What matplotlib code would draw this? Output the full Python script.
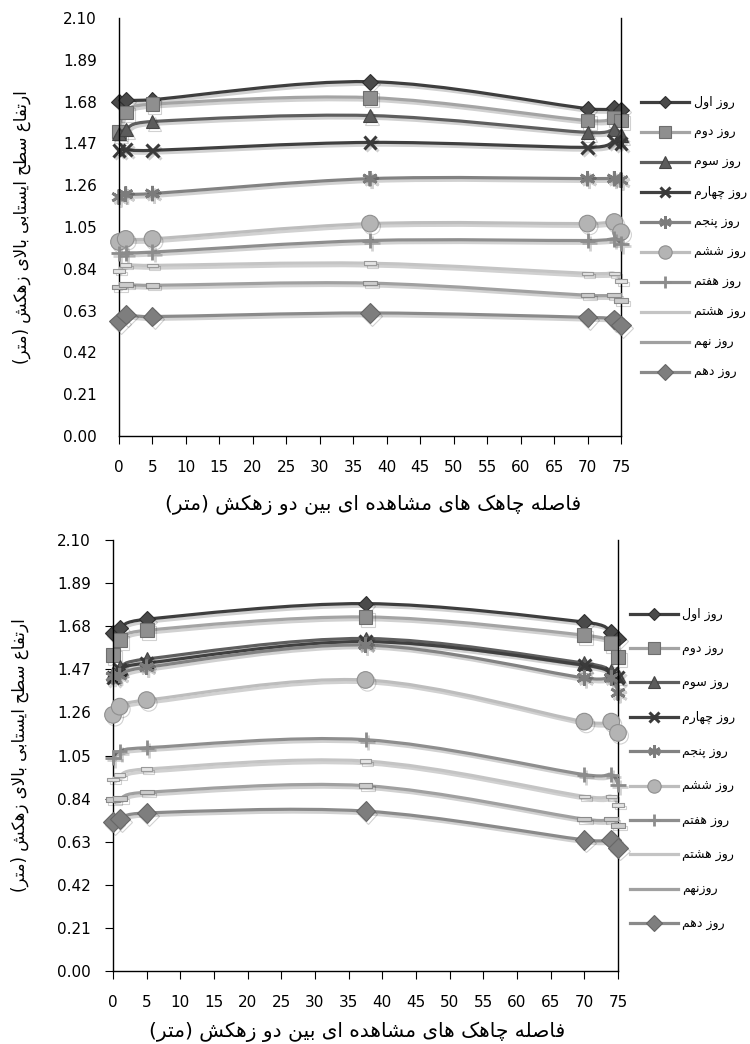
import numpy as np
import matplotlib
matplotlib.use("Agg")
import matplotlib.pyplot as plt
from matplotlib.path import Path
from matplotlib.patches import PathPatch
from matplotlib.lines import Line2D
import matplotlib.patheffects as pe

plt.rcParams['font.family'] = ['DejaVu Sans']

# distances of the observation wells between the two drains (m)
wells = [0, 1, 5, 37.5, 70, 74, 75]

day_names = ["روز اول", "روز دوم", "روز سوم", "روز چهارم", "روز پنجم",
             "روز ششم", "روز هفتم", "روز هشتم", "روز نهم", "روز دهم"]
day_names_2 = ["روز اول", "روز دوم", "روز سوم", "روز چهارم", "روز پنجم",
               "روز ششم", "روز هفتم", "روز هشتم", "روزنهم", "روز دهم"]

# water table height above drain (m), upper chart
top_levels = [
    [1.68, 1.69, 1.69, 1.78, 1.645, 1.65, 1.64],
    [1.53, 1.625, 1.667, 1.70, 1.585, 1.60, 1.585],
    [1.52, 1.54, 1.58, 1.61, 1.525, 1.54, 1.51],
    [1.435, 1.44, 1.435, 1.475, 1.45, 1.48, 1.47],
    [1.20, 1.215, 1.218, 1.293, 1.293, 1.293, 1.285],
    [0.975, 0.99, 0.99, 1.067, 1.067, 1.075, 1.024],
    [0.917, 0.92, 0.924, 0.982, 0.982, 0.99, 0.967],
    [0.83, 0.86, 0.857, 0.868, 0.817, 0.817, 0.778],
    [0.748, 0.762, 0.757, 0.768, 0.707, 0.707, 0.68],
    [0.576, 0.61, 0.60, 0.618, 0.596, 0.586, 0.556],
]

# lower chart
bottom_levels = [
    [1.646, 1.67, 1.714, 1.79, 1.70, 1.652, 1.62],
    [1.54, 1.612, 1.66, 1.725, 1.636, 1.597, 1.53],
    [1.45, 1.48, 1.52, 1.62, 1.50, 1.46, 1.44],
    [1.43, 1.47, 1.50, 1.605, 1.49, 1.45, 1.43],
    [1.434, 1.44, 1.48, 1.588, 1.428, 1.428, 1.355],
    [1.248, 1.288, 1.32, 1.418, 1.215, 1.215, 1.16],
    [1.04, 1.07, 1.088, 1.127, 0.957, 0.957, 0.908],
    [0.934, 0.954, 0.984, 1.023, 0.851, 0.851, 0.81],
    [0.835, 0.84, 0.871, 0.903, 0.74, 0.74, 0.71],
    [0.725, 0.74, 0.77, 0.779, 0.639, 0.64, 0.60],
]

y_label = "ارتفاع سطح ایستابی بالای زهکش (متر)"
x_label = "فاصله چاهک های مشاهده ای بین دو زهکش (متر)"

# --- simple Persian shaping (matplotlib has no RTL / joining support) ---
FORMS = {
    'ا': ('\uFE8D', '\uFE8E', None, None),
    'ب': ('\uFE8F', '\uFE90', '\uFE91', '\uFE92'),
    'ت': ('\uFE95', '\uFE96', '\uFE97', '\uFE98'),
    'ج': ('\uFE9D', '\uFE9E', '\uFE9F', '\uFEA0'),
    'ح': ('\uFEA1', '\uFEA2', '\uFEA3', '\uFEA4'),
    'د': ('\uFEA9', '\uFEAA', None, None),
    'ر': ('\uFEAD', '\uFEAE', None, None),
    'ز': ('\uFEAF', '\uFEB0', None, None),
    'س': ('\uFEB1', '\uFEB2', '\uFEB3', '\uFEB4'),
    'ش': ('\uFEB5', '\uFEB6', '\uFEB7', '\uFEB8'),
    'ص': ('\uFEB9', '\uFEBA', '\uFEBB', '\uFEBC'),
    'ط': ('\uFEC1', '\uFEC2', '\uFEC3', '\uFEC4'),
    'ع': ('\uFEC9', '\uFECA', '\uFECB', '\uFECC'),
    'ف': ('\uFED1', '\uFED2', '\uFED3', '\uFED4'),
    'ل': ('\uFEDD', '\uFEDE', '\uFEDF', '\uFEE0'),
    'م': ('\uFEE1', '\uFEE2', '\uFEE3', '\uFEE4'),
    'ن': ('\uFEE5', '\uFEE6', '\uFEE7', '\uFEE8'),
    'ه': ('\uFEE9', '\uFEEA', '\uFEEB', '\uFEEC'),
    'و': ('\uFEED', '\uFEEE', None, None),
    'پ': ('\uFB56', '\uFB57', '\uFB58', '\uFB59'),
    'چ': ('\uFB7A', '\uFB7B', '\uFB7C', '\uFB7D'),
    'ک': ('\uFB8E', '\uFB8F', '\uFB90', '\uFB91'),
    'ی': ('\uFBFC', '\uFBFD', '\uFBFE', '\uFBFF'),
}
RIGHT_ONLY = set('ادذرزو')
MIRROR = {'(': ')', ')': '('}


def joins_next(c):
    return c in FORMS and c not in RIGHT_ONLY


def fa(text):
    out = []
    i, n = 0, len(text)
    while i < n:
        c = text[i]
        prev = text[i - 1] if i > 0 else ''
        p = joins_next(prev)
        if c == 'ل' and i + 1 < n and text[i + 1] == 'ا':
            out.append('\uFEFC' if p else '\uFEFB')
            i += 2
            continue
        if c not in FORMS:
            out.append(MIRROR.get(c, c))
            i += 1
            continue
        nxt = text[i + 1] if i + 1 < n else ''
        q = nxt in FORMS and c not in RIGHT_ONLY
        iso, fin, ini, med = FORMS[c]
        if p and q:
            out.append(med)
        elif p:
            out.append(fin)
        elif q:
            out.append(ini)
        else:
            out.append(iso)
        i += 1
    return ''.join(reversed(out))


def smooth_path(xs, ys):
    # Excel-like smoothed line: cubic bezier segments, tangents at 1/6
    pts = np.column_stack([xs, ys]).astype(float)
    n = len(pts)
    verts = [pts[0]]
    codes = [Path.MOVETO]
    for i in range(n - 1):
        p0 = pts[i - 1] if i > 0 else pts[i]
        p1, p2 = pts[i], pts[i + 1]
        p3 = pts[i + 2] if i + 2 < n else pts[i + 1]
        d1 = (p2 - p0) / 6.0
        d2 = (p3 - p1) / 6.0
        w = p2[0] - p1[0]
        if d1[0] > w:
            d1 = d1 * w / d1[0]
        if d2[0] > w:
            d2 = d2 * w / d2[0]
        verts += [p1 + d1, p2 - d2, p2]
        codes += [Path.CURVE4] * 3
    return Path(verts, codes)


dash_mark = Path([(-1, -0.32), (1, -0.32), (1, 0.32), (-1, 0.32), (-1, -0.32)],
                 [Path.MOVETO, Path.LINETO, Path.LINETO, Path.LINETO, Path.CLOSEPOLY])

line_colors = ['#3e3e3e', '#a4a4a4', '#5e5e5e', '#404040', '#828282',
               '#bdbdbd', '#8e8e8e', '#c4c4c4', '#a0a0a0', '#8a8a8a']
styles = [
    dict(marker='D', ms=8, mfc='#4a4a4a', mec='#2e2e2e', mew=0.8),
    dict(marker='s', ms=10, mfc='#8f8f8f', mec='#6e6e6e', mew=0.8),
    dict(marker='^', ms=10, mfc='#5c5c5c', mec='#444444', mew=0.8),
    dict(marker='x', ms=9, mfc='#3a3a3a', mec='#3a3a3a', mew=2.2),
    dict(marker=(6, 2, 0), ms=11, mfc='#7c7c7c', mec='#7c7c7c', mew=2.0),
    dict(marker='o', ms=12, mfc='#b4b4b4', mec='#8f8f8f', mew=0.8),
    dict(marker='+', ms=11, mfc='#8c8c8c', mec='#8c8c8c', mew=2.0),
    dict(marker=dash_mark, ms=8, mfc='#e4e4e4', mec='#9a9a9a', mew=0.8),
    dict(marker=dash_mark, ms=10, mfc='#cccccc', mec='#8a8a8a', mew=0.8),
    dict(marker='D', ms=10, mfc='#7e7e7e', mec='#666666', mew=0.8),
]
shadow = [pe.SimpleLineShadow(offset=(1.5, -2), shadow_color='k', alpha=0.18), pe.Normal()]

fig = plt.figure(figsize=(7.5, 10.44), dpi=100)
ax1 = fig.add_axes([119 / 750, 1 - 436 / 1044, 502 / 750, 418 / 1044])
ax2 = fig.add_axes([113 / 750, 1 - 971 / 1044, 505 / 750, 431 / 1044])


def draw_panel(ax, levels, names, ytick_len, ylab_x, xlab_x, xlab_y, leg_anchor, leg_space):
    handles = []
    for k, vals in enumerate(levels):
        patch = PathPatch(smooth_path(wells, vals), fill=False, edgecolor=line_colors[k],
                          lw=2.3, capstyle='round', joinstyle='round', zorder=2 + k * 0.1)
        patch.set_path_effects(shadow)
        ax.add_patch(patch)
        ax.plot(wells, vals, ls='none', zorder=2.05 + k * 0.1, clip_on=False,
                path_effects=shadow, **styles[k])
        if k in (7, 8):
            h = Line2D([], [], color=line_colors[k], lw=2.3)
        else:
            h = Line2D([], [], color=line_colors[k], lw=2.3, **styles[k])
        handles.append(h)

    ax.set_xlim(0, 75)
    ax.set_ylim(0, 2.1)
    ax.set_xticks(np.arange(0, 76, 5))
    yt = np.arange(0, 2.101, 0.21)
    ax.set_yticks(yt)
    ax.set_yticklabels([f"{v:.2f}" for v in yt])
    ax.spines['top'].set_visible(False)
    for s in ('left', 'bottom', 'right'):
        ax.spines[s].set_linewidth(1.0)
        ax.spines[s].set_color('black')
    ax.tick_params(axis='x', direction='out', length=6, pad=11, labelsize=11)
    ax.tick_params(axis='y', direction='out', length=ytick_len,
                   pad=16 - ytick_len, labelsize=11)
    ax.tick_params(axis='y', which='both', right=False)

    ax.set_ylabel(fa(y_label), fontsize=12)
    ax.yaxis.set_label_coords(ylab_x, 0.5)
    ax.set_xlabel(fa(x_label), fontsize=14.5)
    ax.xaxis.set_label_coords(xlab_x, xlab_y)

    ax.legend(handles, [fa(t) for t in names], loc='upper left',
              bbox_to_anchor=leg_anchor, bbox_transform=fig.transFigure,
              frameon=False, fontsize=9, labelspacing=leg_space, handlelength=3.8,
              handletextpad=0.4, borderpad=0, borderaxespad=0, markerscale=0.8)


draw_panel(ax1, top_levels, day_names, 0, -0.176, 0.506, -0.141,
           (641 / 750, 1 - 96 / 1044), 1.35)
draw_panel(ax2, bottom_levels, day_names_2, 6, -0.166, 0.483, -0.118,
           (630 / 750, 1 - 608 / 1044), 1.7)

fig.savefig("out.png", dpi=100, facecolor='white')
